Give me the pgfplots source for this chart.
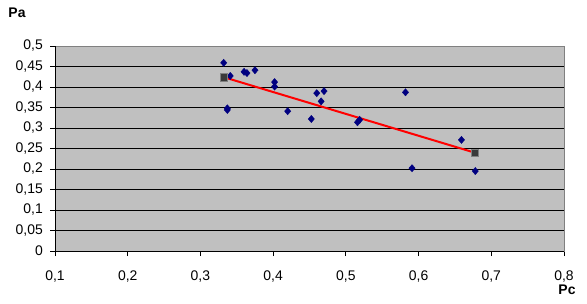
\documentclass[border=0pt]{standalone}
\usepackage{pgfplots}
\pgfplotsset{compat=1.18}
\usepackage{fontspec}
\setmainfont{Liberation Sans}
\definecolor{plotgray}{HTML}{C0C0C0}
\definecolor{navy}{HTML}{000080}
\definecolor{framegray}{HTML}{808080}
\definecolor{sqgray}{HTML}{3A3A3A}
\begin{document}
\fontsize{14}{16}\selectfont
\begin{tikzpicture}
\useasboundingbox[fill=white] (0,0) rectangle (587bp,304bp);
\begin{axis}[
  at={(55bp,53bp)}, anchor=south west,
  scale only axis, width=509bp, height=205bp,
  xmin=0.1, xmax=0.8, ymin=0, ymax=0.5,
  xtick={0.1,0.2,...,0.8}, ytick={0,0.05,...,0.5},
  axis background/.style={fill=plotgray},
  axis line style={framegray, line width=0.8bp},
  ymajorgrids, grid style={black, line width=0.8bp},
  tick align=outside, major tick length=5bp,
  tick style={black, line width=0.8bp},
  xtick pos=bottom, ytick pos=left,
  /pgf/number format/.cd, use comma, fixed, precision=2, assume math mode=true,
  /pgfplots/.cd,
  ticklabel style={font=\fontsize{14}{16}\selectfont},
  yticklabel style={inner sep=0pt, xshift=-7bp},
  xticklabel style={inner sep=0pt, yshift=-15bp},
  clip=false,
]
\addplot[only marks, mark=diamond*, mark size=3.6bp, mark options={fill=navy, draw=navy, xscale=1.15}] coordinates {
(0.332,0.459)
(0.341,0.427)
(0.337,0.348)
(0.337,0.344)
(0.360,0.437)
(0.364,0.434)
(0.375,0.441)
(0.402,0.412)
(0.402,0.401)
(0.420,0.341)
(0.4525,0.322)
(0.460,0.385)
(0.470,0.390)
(0.466,0.365)
(0.516,0.314)
(0.519,0.320)
(0.582,0.387)
(0.591,0.202)
(0.659,0.271)
(0.678,0.195)
};
\addplot[red, line width=2bp, mark=square*, mark size=3.8bp, mark options={fill=sqgray, draw=framegray, line width=0.5bp}] coordinates {
(0.332,0.424)
(0.677,0.240)
};
\draw[black, line width=0.8bp] (rel axis cs:0,0) -- (rel axis cs:0,1);
\draw[black, line width=0.8bp] (rel axis cs:0,0) -- (rel axis cs:1,0);
\end{axis}
\node[font=\bfseries\fontsize{14}{16}\selectfont] at (17bp,291bp) {Pa};
\node[font=\bfseries\fontsize{14}{16}\selectfont] at (567bp,14bp) {Pc};
\end{tikzpicture}
\end{document}
